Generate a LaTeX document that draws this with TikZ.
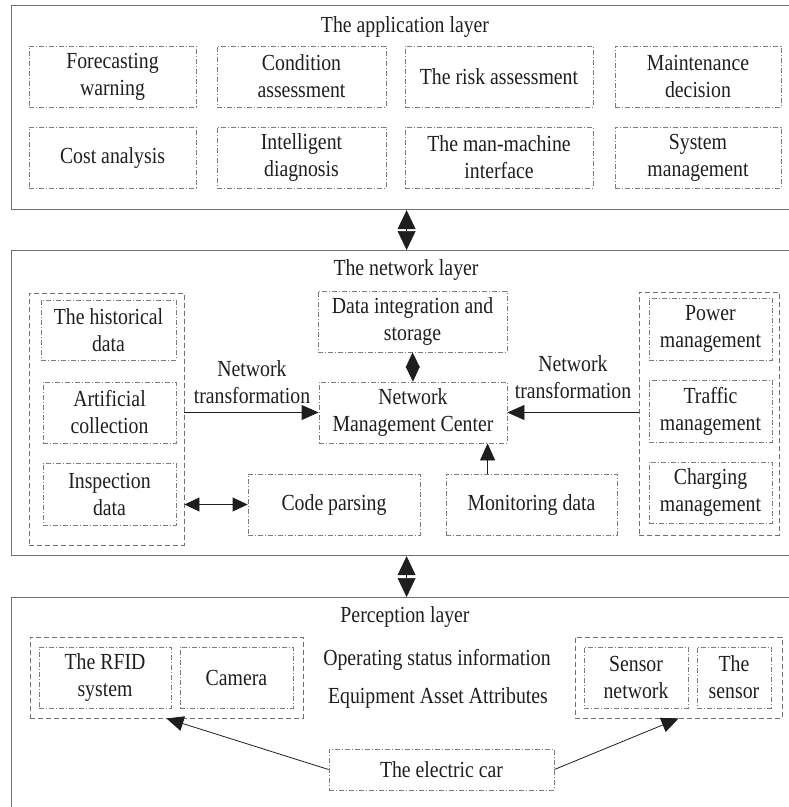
\documentclass[tikz,border=0pt]{standalone}
\usepackage{fontspec}
\setmainfont{Liberation Serif}[FakeStretch=0.86]
\usetikzlibrary{arrows.meta}
\definecolor{layergray}{HTML}{707070}
\definecolor{boxgray}{HTML}{7C7C7C}
\definecolor{txtcol}{HTML}{1E1E1E}
\begin{document}
\begin{tikzpicture}[x=1pt,y=-1pt,
  every node/.style={text=txtcol},
  layerbox/.style={draw=layergray, line width=1.2pt, rectangle, inner sep=0pt, anchor=north west},
  ibox/.style={draw=boxgray, line width=0.8pt, dash pattern=on 5pt off 2pt on 1pt off 2pt, rectangle, inner sep=0pt, align=center, font=\fontsize{23}{27}\selectfont, minimum height=61pt},
  gbox/.style={draw=layergray, line width=0.9pt, dash pattern=on 5pt off 3pt, rectangle, inner sep=0pt},
  txt/.style={inner sep=0pt, align=center, font=\fontsize{23}{27}\selectfont},
  conn/.style={draw=txtcol, line width=0.8pt},
  tip/.style={-{Triangle[length=17pt,width=15pt]}},
  dtip/.style={{Triangle[length=15pt,width=14pt]}-{Triangle[length=15pt,width=14pt]}},
  bigtip/.style={line width=0.6pt,{Triangle[length=19pt,width=18pt]}-{Triangle[length=19pt,width=18pt]}}
]
\useasboundingbox (0,0) rectangle (789,807);
\clip (0,0) rectangle (789,807);

% layers
\node[layerbox, minimum width=800pt, minimum height=204pt] (applayer) at (11,5) {};
\node[layerbox, minimum width=800pt, minimum height=305pt] (netlayer) at (11,250) {};
\node[layerbox, minimum width=800pt, minimum height=240pt] (perlayer) at (11,597) {};

% application layer
\node[txt] (apptitle) at (405,27) {The application layer};
\node[ibox, minimum width=167pt] (fw) at (112.5,76.5) {Forecasting\\warning};
\node[ibox, minimum width=169pt] (ca) at (301.5,76.5) {Condition\\assessment};
\node[ibox, minimum width=188pt] (ra) at (499,76.5) {The risk assessment};
\node[ibox, minimum width=166pt] (md) at (698,76.5) {Maintenance\\decision};
\node[ibox, minimum width=167pt] (cost) at (112.5,157.5) {Cost analysis};
\node[ibox, minimum width=169pt] (idg) at (301.5,157.5) {Intelligent\\diagnosis};
\node[ibox, minimum width=188pt] (mmi) at (499,157.5) {The man-machine\\interface};
\node[ibox, minimum width=166pt] (sm) at (698,157.5) {System\\management};

% network layer
\node[txt] (nettitle) at (406,270) {The network layer};
\node[gbox, minimum width=155pt, minimum height=252pt] (leftg) at (106.5,419) {};
\node[ibox, minimum width=135pt, minimum height=60pt] (hist) at (108.5,330) {The historical\\data};
\node[ibox, minimum width=133pt] (art) at (109.5,412.5) {Artificial\\collection};
\node[ibox, minimum width=133pt, minimum height=62pt] (insp) at (109.5,494) {Inspection\\data};
\node[ibox, minimum width=189pt] (dis) at (412.5,321.5) {Data integration and\\storage};
\node[ibox, minimum width=188pt] (nmc) at (413,412.5) {Network\\Management Center};
\node[ibox, minimum width=172pt] (code) at (334,504.5) {Code parsing};
\node[ibox, minimum width=171pt] (mon) at (531.5,504.5) {Monitoring data};
\node[gbox, minimum width=140pt, minimum height=243pt] (rightg) at (709,413.5) {};
\node[ibox, minimum width=123pt, minimum height=62pt] (pow) at (710.5,329) {Power\\management};
\node[ibox, minimum width=123pt, minimum height=62pt] (traf) at (710.5,411) {Traffic\\management};
\node[ibox, minimum width=123pt] (chg) at (710.5,492.5) {Charging\\management};
\node[txt] (ntl) at (252,382) {Network\\transformation};
\node[txt] (ntr) at (573,377) {Network\\transformation};

\draw[conn, tip] (leftg.east |- nmc.west) -- (nmc.west);
\draw[conn, tip] (rightg.west |- nmc.east) -- (nmc.east);
\draw[conn, dtip] (dis.south) -- (nmc.north);
\draw[conn, dtip] (code.west -| leftg.east) -- (code.west);
\draw[conn, tip] ([xshift=42pt]mon.north west) -- ([xshift=42pt]mon.north west |- nmc.south);

% perception layer
\node[txt] (pertitle) at (405,617) {Perception layer};
\node[gbox, minimum width=273pt, minimum height=81pt] (leftp) at (166.5,677.5) {};
\node[ibox, minimum width=132pt] (rfid) at (105,677.5) {The RFID\\system};
\node[ibox, minimum width=113pt] (cam) at (236.5,677.5) {Camera};
\node[gbox, minimum width=207pt, minimum height=81pt] (rightp) at (678.5,677.5) {};
\node[ibox, minimum width=104pt] (sn) at (636,677.5) {Sensor\\network};
\node[ibox, minimum width=74pt] (sen) at (734,677.5) {The\\sensor};
\node[txt] (osi) at (437,660) {Operating status information};
\node[txt] (eaa) at (438,698) {Equipment Asset Attributes};
\node[ibox, minimum width=225pt, minimum height=41pt] (car) at (441.5,769.5) {The electric car};
\draw[conn, tip] (car.west) -- (leftp.south);
\draw[conn, tip] (car.east) -- (rightp.south);

% inter-layer arrows
\draw[conn, bigtip] ([xshift=-5pt]applayer.south) -- ([xshift=-5pt]netlayer.north);
\draw[conn, bigtip] ([xshift=-5pt]netlayer.south) -- ([xshift=-5pt]perlayer.north);
\end{tikzpicture}
\end{document}
